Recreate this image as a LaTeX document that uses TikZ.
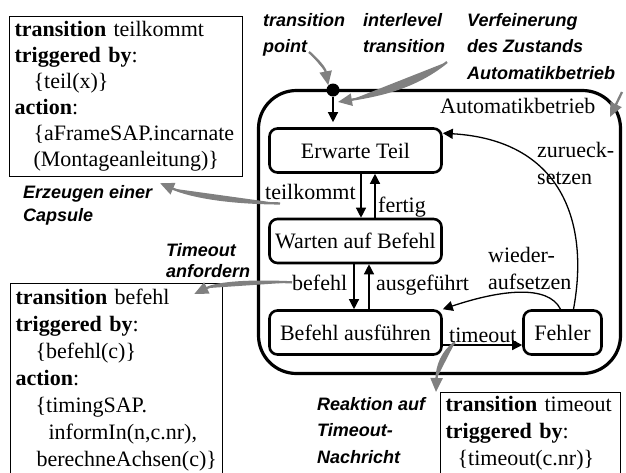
\documentclass[tikz,border=0pt]{standalone}
\usepackage{fontspec}
\setmainfont{Liberation Serif}
\setsansfont{Liberation Sans}
\usepackage{tikz}
\usetikzlibrary{arrows.meta}
\usetikzlibrary{positioning}

\tikzset{
  zustand/.style={rectangle, rounded corners=8pt, draw=black, line width=2.6pt, inner sep=0pt, minimum height=44pt, font=\fontsize{22}{27}\selectfont},
  oberzustand/.style={rectangle, rounded corners=38pt, draw=black, line width=3.2pt, inner sep=0pt},
  infobox/.style={rectangle, draw=black, line width=1.2pt, align=left, anchor=north west, inner xsep=5pt, inner ysep=5pt, font=\fontsize{22}{27}\selectfont},
  lbl/.style={inner sep=0pt, align=left, font=\fontsize{22}{27}\selectfont},
  note/.style={inner sep=0pt, align=left, anchor=north west, font=\sffamily\bfseries\itshape\fontsize{18}{26.5}\selectfont},
  trans/.style={-{Triangle[length=10pt,width=10pt]}, line width=1.3pt},
  hint/.style={-{Triangle[length=14pt,width=12pt]}, draw=black!50, fill=black!50, line width=2.3pt},
}

\begin{document}
\begin{tikzpicture}[x=1pt, y=-1pt]
    \useasboundingbox (0,0) rectangle (626,472);

    \node[oberzustand, minimum width=362pt, minimum height=283pt] (auto) at (439.5,232) {};
    \node[lbl, anchor=base west] (autolbl) at (440,113) {Automatikbetrieb};

    \node[zustand, minimum width=172pt] (et) at (355.5,150.5) {Erwarte Teil};
    \node[zustand, minimum width=172pt] (wa) at (355.5,241) {Warten auf Befehl};
    \node[zustand, minimum width=172pt] (ba) at (355.5,332.5) {Befehl ausführen};
    \node[zustand, minimum width=78pt] (fh) at (562.5,332.5) {Fehler};

    \node[circle, fill=black, inner sep=0pt, minimum size=13pt] (tp) at (333,90) {};
    \draw[trans, shorten >=5pt] (tp) -- (tp |- et.north);

    \draw[trans] ([xshift=5.5pt]et.south) -- ([xshift=5.5pt]wa.north);
    \draw[trans] ([xshift=19.5pt]wa.north) -- ([xshift=19.5pt]et.south);
    \draw[trans] ([xshift=-1.5pt]wa.south) -- ([xshift=-1.5pt]ba.north);
    \draw[trans] ([xshift=13.5pt]ba.north) -- ([xshift=13.5pt]wa.south);
    \draw[trans] ([yshift=-12.5pt]ba.east) -- ([yshift=-12.5pt]fh.west);
    \draw[trans] ([xshift=-2pt]fh.north) .. controls (548,284) and (500,290) .. (ba.north east);
    \draw[trans] ([xshift=11pt]fh.north) .. controls (590,220) and (560,140) .. ([yshift=-6pt]et.north east);

    \node[lbl, anchor=base west] (tk) at (265,199) {teilkommt};
    \node[lbl, anchor=base west] (fe) at (378,212) {fertig};
    \node[lbl, anchor=base west] (bf) at (292,290) {befehl};
    \node[lbl, anchor=base west] (af) at (376,290) {ausgeführt};
    \node[lbl, anchor=base west] (to) at (449,342) {timeout};
    \node[lbl, anchor=north west] (zs) at (537,142) {zurueck-\\setzen};
    \node[lbl, anchor=north west] (wd) at (488,247) {wieder-\\aufsetzen};

    \node[infobox, text width=223pt, font=\fontsize{22}{26}\selectfont] (tkbox) at (9,16) {%
        \textbf{transition} teilkommt\\
        \textbf{triggered by}:\\
        \hspace*{19pt}\{teil(x)\}\\
        \textbf{action}:\\
        \hspace*{19pt}\{aFrameSAP.incarnate\\
        \hspace*{19pt}(Montageanleitung)\}};
    \node[infobox, text width=202pt] (bfbox) at (10,283) {%
        \textbf{transition} befehl\\
        \textbf{triggered by}:\\
        \hspace*{20pt}\{befehl(c)\}\\
        \textbf{action}:\\
        \hspace*{20pt}\{timingSAP.\\
        \hspace*{33pt}informIn(n,c.nr),\\
        \hspace*{21pt}berechneAchsen(c)\}};
    \node[infobox, text width=170pt, inner ysep=4pt] (tobox) at (440,392) {%
        \textbf{transition} timeout\\
        \textbf{triggered by}:\\
        \hspace*{12pt}\{timeout(c.nr)\}};

    \node[note] (tpnote) at (263,13) {transition\\point};
    \node[note] (ilnote) at (363,13) {interlevel\\transition};
    \node[note] (vfnote) at (467,13) {Verfeinerung\\des Zustands\\Automatikbetrieb};
    \node[note, font=\sffamily\bfseries\itshape\fontsize{18}{23.5}\selectfont] (cpnote) at (23,185) {Erzeugen einer\\Capsule};
    \node[note, font=\sffamily\bfseries\itshape\fontsize{18}{21}\selectfont] (tonote) at (166,243) {Timeout\\anfordern};
    \node[note] (rknote) at (317,397) {Reaktion auf\\Timeout-\\Nachricht};

    \coordinate (ptstart) at (309,52);
    \coordinate (ilstart) at (447,62);
    \coordinate (ilend) at (338,102);
    \coordinate (vfstart) at (622,92);
    \coordinate (vfend) at (610,117);

    \draw[hint] (ptstart) .. controls (318,60) and (325,68) .. (tp.north west);
    \draw[hint] (ilstart) .. controls (415,88) and (380,95) .. (ilend);
    \draw[hint] (vfstart) -- (vfend);
    \draw[hint] ([xshift=15pt,yshift=-4pt]tk.south west) .. controls (225,203) and (190,196) .. ([xshift=34pt,yshift=-6pt]tkbox.south);
    \draw[hint] (bf.west) .. controls (240,280) and (215,284) .. ([xshift=-29pt,yshift=-11pt]bfbox.north east);
    \draw[hint] ([xshift=6pt]to.south west) .. controls (442,352) and (437,366) .. ([xshift=-4pt]tobox.north west);
\end{tikzpicture}
\end{document}
